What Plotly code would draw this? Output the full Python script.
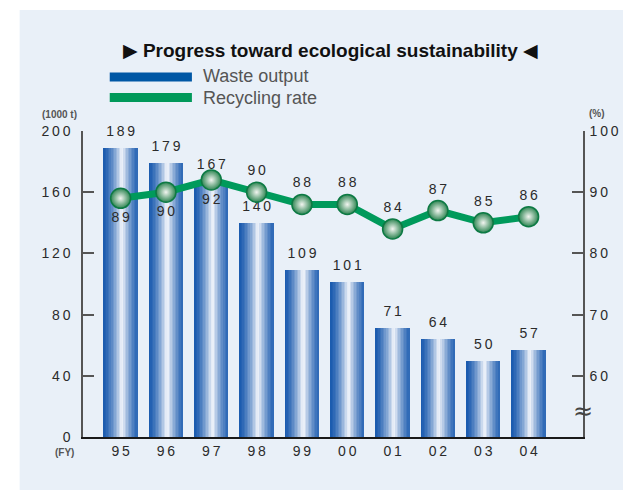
import plotly.graph_objects as go

# data
years = ["95", "96", "97", "98", "99", "00", "01", "02", "03", "04"]
waste = [189, 179, 167, 140, 109, 101, 71, 64, 50, 57]
recycling = [89, 90, 92, 90, 88, 88, 84, 87, 85, 86]
left_ticks = [0, 40, 80, 120, 160, 200]
right_ticks = [60, 70, 80, 90, 100]
rate_label_pos = ["bottom center"] * 3 + ["top center"] * 7


def spaced(v):
    # mimic the letter spacing of the original labels
    return "\u2009".join(str(v))


# the page puts the figure 8px in from the top-left corner
W, H = 623, 482
L, R, T, B = 75, 43, 123, 53


def px(x):
    # page x pixel -> paper coordinate
    return (x - 83) / 505


def py(y):
    # page y pixel -> paper coordinate
    return (437 - y) / 306


FONT = "Liberation Sans, Arial, DejaVu Sans"

fig = go.Figure()

# cylinder-like bars: stripes of one bar, shaded from dark edge to light centre
dark = (27, 91, 175)
light = (244, 247, 252)
n = 22
bw = 0.74
sw = bw / n
for i in range(n):
    t = (i + 0.5) / n
    f = max(0.0, 1 - abs(t - 0.55) / 0.55) ** 1.5
    c = tuple(int(dark[k] + (light[k] - dark[k]) * f) for k in range(3))
    fig.add_trace(go.Bar(
        x=years, y=waste, width=sw * 1.15, offset=-bw / 2 + i * sw,
        marker=dict(color="rgb(%d,%d,%d)" % c, line=dict(width=0)),
        hoverinfo="skip", showlegend=False,
    ))

# bar value labels
fig.add_trace(go.Scatter(
    x=years, y=waste, mode="markers+text", text=[spaced(v) for v in waste],
    marker=dict(size=12, opacity=0),
    textposition="top center", cliponaxis=False,
    textfont=dict(size=14, color="#2b2b2b", family=FONT),
    showlegend=False, hoverinfo="skip",
))

# recycling rate line
fig.add_trace(go.Scatter(
    x=years, y=recycling, yaxis="y2", mode="lines+markers+text",
    line=dict(color="#009a5b", width=7),
    marker=dict(size=20, color="#2e8552",
                gradient=dict(type="radial", color="#f2f5f0"),
                line=dict(color="#0d7a44", width=1.5)),
    text=[spaced(v) for v in recycling], textposition=rate_label_pos,
    textfont=dict(size=14, color="#2b2b2b", family=FONT),
    cliponaxis=False, showlegend=False,
))

tickfont = dict(size=14, color="#2b2b2b", family=FONT)


def note(text, x, y, size, color="#555", xanchor="center"):
    return dict(text=text, xref="paper", yref="paper", x=px(x), y=py(y),
                xanchor=xanchor, yanchor="middle", showarrow=False,
                font=dict(size=size, color=color, family=FONT))


fig.update_layout(
    width=W, height=H,
    margin=dict(l=L, r=R, t=T, b=B),
    paper_bgcolor="white",
    plot_bgcolor="rgba(0,0,0,0)",
    barmode="overlay",
    bargap=0,
    xaxis=dict(
        type="category", range=[-0.83, 10.2],
        tickvals=years, ticktext=[spaced(y) for y in years],
        showline=True, linecolor="#1a1a1a", linewidth=2,
        ticks="", showgrid=False, zeroline=False, tickfont=tickfont,
    ),
    yaxis=dict(
        range=[0, 200], tickvals=left_ticks,
        ticktext=[spaced(v) for v in left_ticks],
        ticks="inside", ticklen=11, tickcolor="#555", tickwidth=1.5,
        showline=True, linecolor="#555", linewidth=1.5,
        showgrid=False, zeroline=False, tickfont=tickfont,
        ticklabelstandoff=8,
    ),
    yaxis2=dict(
        range=[50, 100], overlaying="y", side="right",
        tickvals=right_ticks, ticktext=[spaced(v) for v in right_ticks],
        ticks="inside", ticklen=11, tickcolor="#555", tickwidth=1.5,
        showline=True, linecolor="#555", linewidth=1.5,
        showgrid=False, zeroline=False, tickfont=tickfont,
        ticklabelstandoff=2,
    ),
    shapes=[
        # light blue panel
        dict(type="rect", xref="paper", yref="paper", layer="below",
             x0=px(19), x1=px(650), y0=py(510), y1=py(10),
             fillcolor="#e9f0f8", line=dict(width=0)),
        # legend swatches
        dict(type="rect", xref="paper", yref="paper",
             x0=px(110), x1=px(193), y0=py(81.5), y1=py(72.5),
             fillcolor="#0057a5", line=dict(width=0)),
        dict(type="rect", xref="paper", yref="paper",
             x0=px(110), x1=px(193), y0=py(102), y1=py(93),
             fillcolor="#00995a", line=dict(width=0)),
    ],
    annotations=[
        note("<b>▶ Progress toward ecological sustainability ◀</b>",
             333, 50, 19, color="#111"),
        note("Waste output", 202, 76, 18, xanchor="left"),
        note("Recycling rate", 202, 98, 18, xanchor="left"),
        note("<b>(1000 t)</b>", 59, 114, 10),
        note("<b>(%)</b>", 602, 113, 10),
        note("<b>(FY)</b>", 64, 452, 10),
        dict(text="≈", xref="paper", yref="paper", x=1, y=py(411),
             xanchor="center", yanchor="middle", showarrow=False,
             font=dict(size=24, color="#444", family="DejaVu Sans")),
    ],
)

fig.write_html("out.html")
